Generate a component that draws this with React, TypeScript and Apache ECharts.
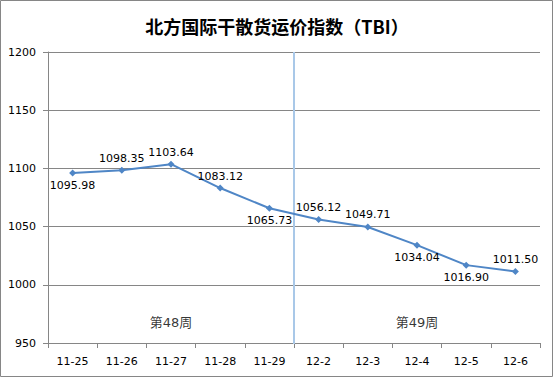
import React, { useEffect, useRef } from "react";
import * as echarts from "echarts";

const title = "北方国际干散货运价指数（TBI）";
const categories = ["11-25", "11-26", "11-27", "11-28", "11-29", "12-2", "12-3", "12-4", "12-5", "12-6"];
const values = [1095.98, 1098.35, 1103.64, 1083.12, 1065.73, 1056.12, 1049.71, 1034.04, 1016.9, 1011.5];
const labelPos = ["bottom", "top", "top", "top", "bottom", "top", "top", "bottom", "bottom", "top"];
const weekLabels = ["第48周", "第49周"];
const weekX = [2.5, 7.5];
const weekY = [968, 968];
const dividerX = 5;
const yMin = 950;
const yMax = 1200;
const yStep = 50;

export default function App() {
  const ref = useRef<HTMLDivElement>(null);
  useEffect(() => {
    if (!ref.current) return;
    const chart = echarts.init(ref.current, null, { renderer: "svg" });
    const font = "DejaVu Sans, Noto Sans CJK SC, sans-serif";
    chart.setOption({
      animation: false,
      backgroundColor: "#ffffff",
      title: {
        text: title,
        left: "center",
        top: 12,
        textStyle: { fontFamily: "Noto Sans CJK SC, sans-serif", fontSize: 18, fontWeight: "bold", color: "#000" },
      },
      graphic: [
        {
          type: "rect",
          shape: { x: 0.5, y: 0.5, width: 552, height: 376 },
          style: { fill: "none", stroke: "#868686", lineWidth: 1 },
          silent: true,
        },
      ],
      grid: { left: 48, right: 14, top: 52, bottom: 35 },
      xAxis: [
        {
          type: "category",
          data: categories,
          boundaryGap: true,
          axisLine: { lineStyle: { color: "#868686" } },
          axisTick: { show: true, length: 5, alignWithLabel: false, lineStyle: { color: "#868686" } },
          axisLabel: { color: "#000", fontFamily: font, fontSize: 11, margin: 13, interval: 0 },
          splitLine: { show: false },
        },
        {
          type: "value",
          min: 0,
          max: 10,
          show: false,
        },
      ],
      yAxis: {
        type: "value",
        min: yMin,
        max: yMax,
        interval: yStep,
        axisLine: { show: true, lineStyle: { color: "#868686" } },
        axisTick: { show: true, length: 5, lineStyle: { color: "#868686" } },
        axisLabel: { color: "#000", fontFamily: font, fontSize: 11, margin: 12, formatter: (v: number) => String(v) },
        splitLine: { show: true, lineStyle: { color: "#868686", width: 1 } },
      },
      series: [
        {
          type: "line",
          xAxisIndex: 1,
          yAxisIndex: 0,
          data: [[dividerX, yMin - 2], [dividerX, yMax]],
          symbol: "none",
          lineStyle: { color: "#a9c8e8", width: 2 },
          silent: true,
          z: 1,
        },
        {
          type: "line",
          xAxisIndex: 0,
          data: values.map((v, i) => ({
            value: v,
            label: { position: labelPos[i] },
          })),
          symbol: "diamond",
          symbolSize: 7,
          lineStyle: { color: "#4f86c6", width: 2 },
          itemStyle: { color: "#4f86c6" },
          label: {
            show: true,
            distance: 3,
            color: "#000",
            fontFamily: font,
            fontSize: 11,
            formatter: (p: any) => Number(p.value).toFixed(2),
          },
          z: 3,
        },
        {
          type: "scatter",
          xAxisIndex: 1,
          data: weekLabels.map((n, i) => ({ name: n, value: [weekX[i], weekY[i]] })),
          symbolSize: 0,
          label: {
            show: true,
            position: "inside",
            formatter: (p: any) => p.name,
            color: "#000",
            fontFamily: font,
            fontSize: 13,
          },
          silent: true,
        },
      ],
    });
    return () => chart.dispose();
  }, []);
  return <div ref={ref} style={{ position: "fixed", left: 0, top: 0, width: 554, height: 378 }} />;
}
